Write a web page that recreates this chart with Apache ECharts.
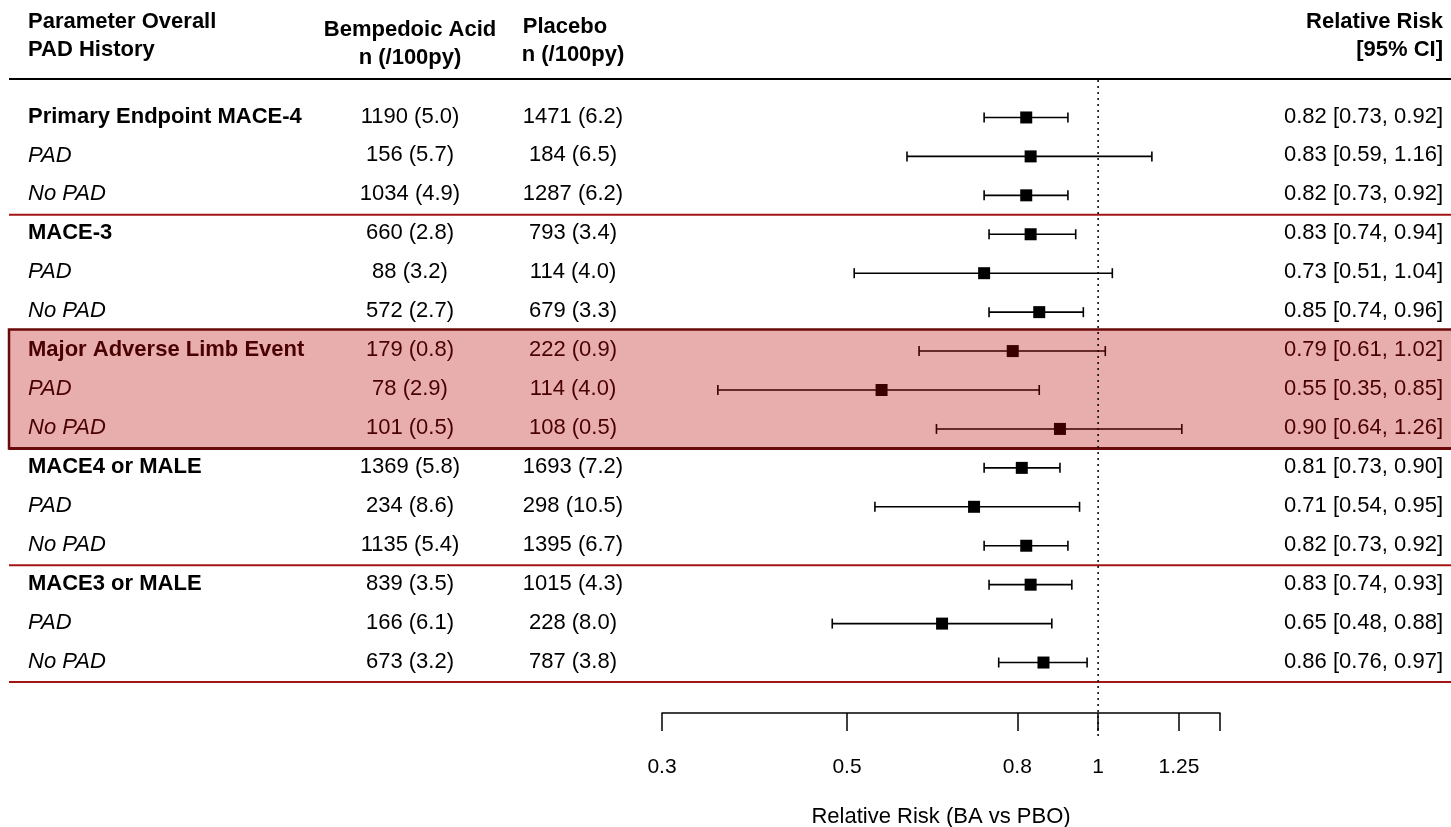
<!DOCTYPE html>
<html>
<head>
<meta charset="utf-8">
<script src="https://cdn.jsdelivr.net/npm/echarts@6/dist/echarts.min.js"></script>
<style>
  html, body { margin: 0; padding: 0; background: #fff; }
  #chart { width: 1451px; height: 827px; }
</style>
</head>
<body>
<div id="chart"></div>
<script>
// rows of the table, top to bottom
const labels = [
  'Primary Endpoint MACE-4', 'PAD', 'No PAD',
  'MACE-3', 'PAD', 'No PAD',
  'Major Adverse Limb Event', 'PAD', 'No PAD',
  'MACE4 or MALE', 'PAD', 'No PAD',
  'MACE3 or MALE', 'PAD', 'No PAD'
];
const isGroup = [1, 0, 0, 1, 0, 0, 1, 0, 0, 1, 0, 0, 1, 0, 0];
const bempedoic = [
  '1190 (5.0)', '156 (5.7)', '1034 (4.9)',
  '660 (2.8)', '88 (3.2)', '572 (2.7)',
  '179 (0.8)', '78 (2.9)', '101 (0.5)',
  '1369 (5.8)', '234 (8.6)', '1135 (5.4)',
  '839 (3.5)', '166 (6.1)', '673 (3.2)'
];
const placebo = [
  '1471 (6.2)', '184 (6.5)', '1287 (6.2)',
  '793 (3.4)', '114 (4.0)', '679 (3.3)',
  '222 (0.9)', '114 (4.0)', '108 (0.5)',
  '1693 (7.2)', '298 (10.5)', '1395 (6.7)',
  '1015 (4.3)', '228 (8.0)', '787 (3.8)'
];
const rr = [0.82, 0.83, 0.82, 0.83, 0.73, 0.85, 0.79, 0.55, 0.90, 0.81, 0.71, 0.82, 0.83, 0.65, 0.86];
const lower = [0.73, 0.59, 0.73, 0.74, 0.51, 0.74, 0.61, 0.35, 0.64, 0.73, 0.54, 0.73, 0.74, 0.48, 0.76];
const upper = [0.92, 1.16, 0.92, 0.94, 1.04, 0.96, 1.02, 0.85, 1.26, 0.90, 0.95, 0.92, 0.93, 0.88, 0.97];
const tickValues = [0.3, 0.5, 0.8, 1, 1.25, 1.4];
const tickLabels = ['0.3', '0.5', '0.8', '1', '1.25', ''];
const highlightRows = [6, 7, 8];
const separatorAfter = [2, 11, 14];

const FONT = 'Liberation Sans, Arial, sans-serif';
const FS = 22;
const SEP_RED = '#a31515';
const HL_TEXT = '#4a0000';

const ln = Math.log;
const fmt = (v) => v.toFixed(2);
const inHighlight = (i) => highlightRows.indexOf(i) >= 0;

const rowData = labels.map((l, i) => [ln(rr[i]), i, ln(lower[i]), ln(upper[i])]);

const chart = echarts.init(document.getElementById('chart'));

const option = {
  animation: false,
  backgroundColor: '#fff',
  grid: { left: 662, right: 231, top: 98, height: 584, containLabel: false, outerBoundsMode: 'none' },
  xAxis: {
    type: 'value',
    min: ln(0.3),
    max: ln(1.4),
    offset: 31,
    splitLine: { show: false },
    axisLine: { show: true, lineStyle: { color: '#000', width: 1.5 } },
    axisTick: {
      show: true, length: 18, inside: false,
      customValues: tickValues.map(ln),
      lineStyle: { color: '#000', width: 1.5 }
    },
    axisLabel: {
      customValues: tickValues.slice(0, 5).map(ln),
      margin: 44,
      fontFamily: FONT, fontSize: 21, color: '#000',
      formatter: (v) => {
        const k = tickValues.findIndex((t) => Math.abs(ln(t) - v) < 1e-6);
        return k >= 0 ? tickLabels[k] : '';
      }
    },
    name: 'Relative Risk (BA vs PBO)',
    nameLocation: 'middle',
    nameGap: 93,
    nameTextStyle: { fontFamily: FONT, fontSize: FS, color: '#000' }
  },
  yAxis: {
    type: 'category',
    data: labels.map((l, i) => i),
    inverse: true,
    show: false
  },
  series: [
    {
      // highlight box, separators and header rule
      type: 'custom',
      silent: true,
      clip: false,
      z: 1,
      data: [[0, 0]],
      renderItem: (params, api) => {
        const band = api.size([0, 1])[1];
        const yTop = (i) => api.coord([0, i])[1] - band / 2;
        const yBot = (i) => api.coord([0, i])[1] + band / 2;
        const children = [];
        const h0 = highlightRows[0], h1 = highlightRows[highlightRows.length - 1];
        children.push({
          type: 'rect',
          shape: { x: 9, y: yTop(h0) - 2, width: 1460, height: yBot(h1) - yTop(h0) + 2 },
          style: { fill: '#e8adad', stroke: '#6b0a0a', lineWidth: 2.5 }
        });
        children.push({
          type: 'line',
          shape: { x1: 9, y1: yBot(h1), x2: 1451, y2: yBot(h1) },
          style: { stroke: '#6b0a0a', lineWidth: 3 }
        });
        separatorAfter.forEach((r) => {
          children.push({
            type: 'line',
            shape: { x1: 9, y1: yBot(r), x2: 1451, y2: yBot(r) },
            style: { stroke: SEP_RED, lineWidth: 2 }
          });
        });
        children.push({
          type: 'line',
          shape: { x1: 9, y1: 79, x2: 1451, y2: 79 },
          style: { stroke: '#000', lineWidth: 2 }
        });
        // reference line at RR = 1
        const x1 = api.coord([0, 0])[0];
        children.push({
          type: 'line',
          shape: { x1: x1, y1: 80, x2: x1, y2: 738 },
          style: { stroke: '#000', lineWidth: 1.5, lineDash: [2, 4] }
        });
        return { type: 'group', children: children };
      }
    },
    {
      // table text columns
      type: 'custom',
      silent: true,
      clip: false,
      z: 3,
      data: rowData,
      renderItem: (params, api) => {
        const i = params.dataIndex;
        const y = api.coord([0, i])[1] - 1;
        const color = inHighlight(i) ? HL_TEXT : '#000';
        const base = { fontFamily: FONT, fontSize: FS, fill: color, verticalAlign: 'middle' };
        return {
          type: 'group',
          children: [
            { type: 'text', x: 28, y: y, style: Object.assign({}, base, {
              text: labels[i], align: 'left',
              fontWeight: isGroup[i] ? 'bold' : 'normal',
              fontStyle: isGroup[i] ? 'normal' : 'italic' }) },
            { type: 'text', x: 410, y: y, style: Object.assign({}, base, { text: bempedoic[i], align: 'center' }) },
            { type: 'text', x: 573, y: y, style: Object.assign({}, base, { text: placebo[i], align: 'center' }) },
            { type: 'text', x: 1443, y: y, style: Object.assign({}, base, {
              text: fmt(rr[i]) + ' [' + fmt(lower[i]) + ', ' + fmt(upper[i]) + ']', align: 'right' }) }
          ]
        };
      }
    },
    {
      // confidence intervals and point estimates
      type: 'custom',
      clip: false,
      z: 4,
      data: rowData,
      renderItem: (params, api) => {
        const i = params.dataIndex;
        const c = api.coord([api.value(0), api.value(1)]);
        const lo = api.coord([api.value(2), api.value(1)]);
        const hi = api.coord([api.value(3), api.value(1)]);
        const color = inHighlight(i) ? '#3a0000' : '#000';
        const cap = 5;
        const s = 12;
        return {
          type: 'group',
          children: [
            { type: 'line', shape: { x1: lo[0], y1: c[1], x2: hi[0], y2: c[1] }, style: { stroke: color, lineWidth: 1.6 } },
            { type: 'line', shape: { x1: lo[0], y1: c[1] - cap, x2: lo[0], y2: c[1] + cap }, style: { stroke: color, lineWidth: 1.6 } },
            { type: 'line', shape: { x1: hi[0], y1: c[1] - cap, x2: hi[0], y2: c[1] + cap }, style: { stroke: color, lineWidth: 1.6 } },
            { type: 'rect', shape: { x: c[0] - s / 2, y: c[1] - s / 2, width: s, height: s }, style: { fill: color } }
          ]
        };
      }
    }
  ],
  graphic: [
    { type: 'text', left: 28, top: 8, style: { text: 'Parameter Overall\nPAD History', font: 'bold 22px ' + FONT, fill: '#000', lineHeight: 28 } },
    { type: 'text', x: 410, y: 16, style: { text: 'Bempedoic Acid\nn (/100py)', font: 'bold 22px ' + FONT, fill: '#000', align: 'center', lineHeight: 28 } },
    { type: 'text', x: 565, y: 16, style: { text: 'Placebo', font: 'bold 22px ' + FONT, fill: '#000', align: 'center' } },
    { type: 'text', x: 573, y: 44, style: { text: 'n (/100py)', font: 'bold 22px ' + FONT, fill: '#000', align: 'center' } },
    { type: 'text', x: 1443, y: 8, style: { text: 'Relative Risk\n[95% CI]', font: 'bold 22px ' + FONT, fill: '#000', align: 'right', lineHeight: 28 } }
  ]
};

chart.setOption(option);
</script>
</body>
</html>
